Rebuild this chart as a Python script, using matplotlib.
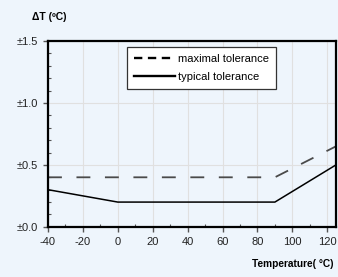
import numpy as np
import matplotlib.pyplot as plt
from matplotlib.ticker import MultipleLocator

plt.rcParams['font.family'] = ['Liberation Sans', 'DejaVu Sans']
plt.rcParams['lines.scale_dashes'] = False
plt.rcParams['axes.unicode_minus'] = False

# data
temp_typ = [-40, 0, 90, 125]
typ_tol = [0.3, 0.2, 0.2, 0.5]
temp_max = [-40, 90, 125]
max_tol = [0.4, 0.4, 0.65]
xticks = [-40, -20, 0, 20, 40, 60, 80, 100, 120]
yticks = [0.0, 0.5, 1.0, 1.5]
ytick_labels = ['±0.0', '±0.5', '±1.0', '±1.5']

bg = '#eef5fc'
fig = plt.figure(figsize=(3.38, 2.77), dpi=100, facecolor=bg)
ax = fig.add_axes([0.142, 0.181, 0.852, 0.671], facecolor=bg)

ax.plot(temp_max, max_tol, color='#4a4a4a', lw=1.3, dashes=(10, 10.5),
        label='maximal tolerance')
ax.plot(temp_typ, typ_tol, color='black', lw=1.1, label='typical tolerance')

ax.set_xlim(-40, 125)
ax.set_ylim(0, 1.5)
ax.set_xticks(xticks)
ax.set_yticks(yticks)
ax.set_yticklabels(ytick_labels)
ax.xaxis.set_minor_locator(MultipleLocator(10))
ax.yaxis.set_minor_locator(MultipleLocator(0.1))
ax.tick_params(which='major', direction='out', length=3.5, width=1,
               labelsize=8, pad=4, color='#555555', labelcolor='#222222')
ax.tick_params(which='minor', direction='in', length=2.5, width=0.8,
               color='#555555')
ax.grid(True, which='major', color='#e0e0e0', lw=0.8)
ax.set_axisbelow(True)
for s in ax.spines.values():
    s.set_linewidth(1.6)
    s.set_color('black')

# legend frame spans roughly x 127..276, y 47..91 px
leg = ax.legend(loc='upper left', bbox_to_anchor=(0.274, 0.968), fontsize=8,
                frameon=True, fancybox=False, edgecolor='#333333',
                framealpha=1, handlelength=3.7, handletextpad=0.3,
                borderpad=0.6, labelspacing=0.75, borderaxespad=0)
leg.get_frame().set_linewidth(0.9)
for h in leg.legend_handles:
    h.set_linewidth(1.7)
    h.set_color('black')
leg.legend_handles[0].set_dashes((6, 4))

fig.text(0.095, 0.94, 'ΔT (ºC)', fontsize=7.5, fontweight='bold',
         ha='left', va='center')
fig.text(0.987, 0.047, 'Temperature( °C)', fontsize=7.3, fontweight='bold',
         ha='right', va='center')

fig.savefig('out.png', dpi=100, facecolor=bg)
